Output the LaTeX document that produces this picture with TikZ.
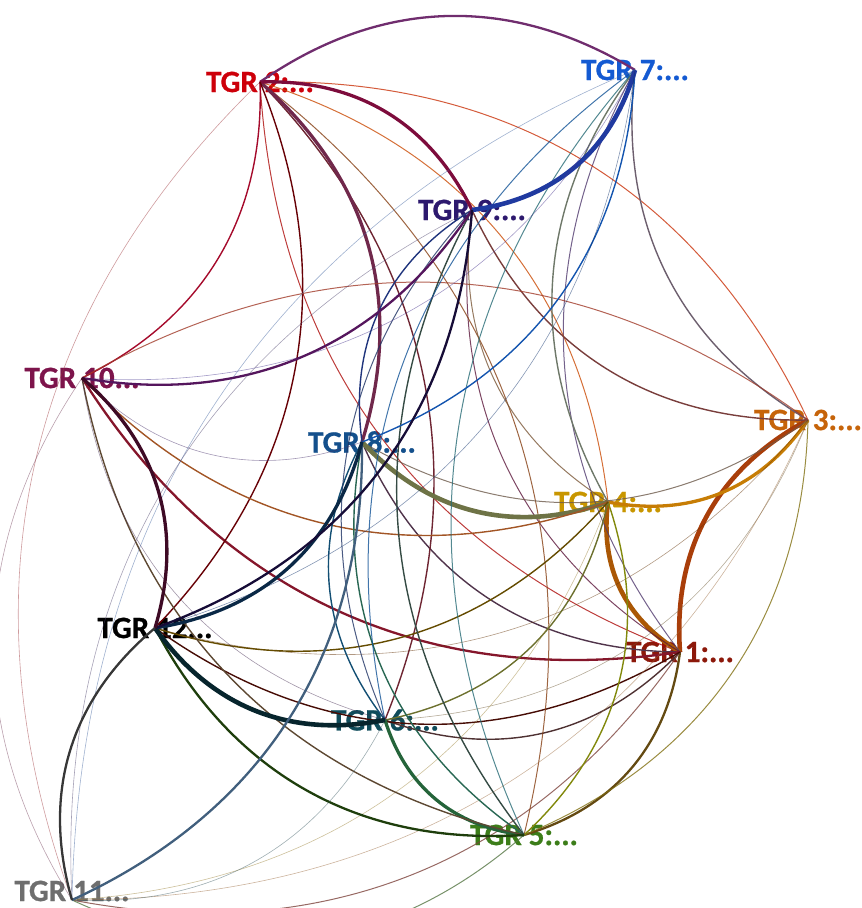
\documentclass[tikz,border=0pt]{standalone}
\usepackage{fontspec}
\setmainfont{Carlito}[BoldFeatures={FakeBold=0.8}]
% node colours
\definecolor{c1}{RGB}{140,24,10}
\definecolor{c2}{RGB}{205,0,10}
\definecolor{c3}{RGB}{198,100,10}
\definecolor{c4}{RGB}{200,150,0}
\definecolor{c5}{RGB}{60,125,25}
\definecolor{c6}{RGB}{15,75,90}
\definecolor{c7}{RGB}{20,90,210}
\definecolor{c8}{RGB}{20,80,140}
\definecolor{c9}{RGB}{45,25,110}
\definecolor{c10}{RGB}{125,20,75}
\definecolor{c11}{RGB}{110,110,110}
\definecolor{c12}{RGB}{0,0,0}
\tikzset{
  lbl/.style={font=\bfseries\fontsize{31}{32}\selectfont, inner sep=0pt},
  wa/.style={line width=0.6pt, opacity=0.5},
  wb/.style={line width=1pt, opacity=0.8},
  wc/.style={line width=1.4pt},
  wd/.style={line width=2.3pt},
  we/.style={line width=3.3pt},
  wf/.style={line width=4.6pt},
  arc/.style={bend left=33},
  rarc/.style={bend right=33},
}
\begin{document}
\begin{tikzpicture}[x=1pt,y=1pt]
\useasboundingbox (0,0) rectangle (862,908);
\coordinate (n1) at (680,256);
\coordinate (n2) at (260,826);
\coordinate (n3) at (808,488);
\coordinate (n4) at (608,406);
\coordinate (n5) at (524,73);
\coordinate (n6) at (385,188);
\coordinate (n7) at (635,838);
\coordinate (n8) at (362,466);
\coordinate (n9) at (472,698);
\coordinate (n10) at (82,530);
\coordinate (n11) at (72,8);
\coordinate (n12) at (155,280);
% labels
\node[lbl,text=c1] (l1) at (n1) {TGR 1:...};
\node[lbl,text=c2] (l2) at (n2) {TGR 2:...};
\node[lbl,text=c3] (l3) at (n3) {TGR 3:...};
\node[lbl,text=c4] (l4) at (n4) {TGR 4:...};
\node[lbl,text=c5] (l5) at (n5) {TGR 5:...};
\node[lbl,text=c6] (l6) at (n6) {TGR 6:...};
\node[lbl,text=c7] (l7) at (n7) {TGR 7:...};
\node[lbl,text=c8] (l8) at (n8) {TGR 8:...};
\node[lbl,text=c9] (l9) at (n9) {TGR 9:...};
\node[lbl,text=c10] (l10) at (n10) {TGR 10...};
\node[lbl,text=c11] (l11) at ([yshift=9pt]n11) {TGR 11...};
\node[lbl,text=c12] (l12) at (n12) {TGR 12...};
% edges, lower number first
\draw[wb,c1!50!c2] (n1) to[arc] (n2);
\draw[wf,c1!50!c3] (n1) to[arc] (n3);
\draw[wf,c1!50!c4] (n1) to[arc] (n4);
\draw[wd,c1!50!c5] (n1) to[arc] (n5);
\draw[wc,c1!50!c6] (n1) to[arc] (n6);
\draw[wb,c1!50!c7] (n1) to[arc] (n7);
\draw[wc,c1!50!c8] (n1) to[arc] (n8);
\draw[wb,c1!50!c9] (n1) to[arc] (n9);
\draw[wd,c1!50!c10] (n1) to[arc] (n10);
\draw[wb,c1!50!c11] (n1) to[arc] (n11);
\draw[wc,c1!50!c12] (n1) to[arc] (n12);
\draw[wb,c2!50!c3] (n2) to[arc] (n3);
\draw[wb,c2!50!c4] (n2) to[arc] (n4);
\draw[wb,c2!50!c5] (n2) to[arc] (n5);
\draw[wc,c2!50!c6] (n2) to[arc] (n6);
\draw[wd,c2!50!c7] (n2) to[arc] (n7);
\draw[we,c2!50!c8] (n2) to[arc] (n8);
\draw[we,c2!50!c9] (n2) to[arc] (n9);
\draw[wc,c2!50!c10] (n2) to[arc] (n10);
\draw[wa,c2!50!c11] (n2) to[rarc] (n11);
\draw[wc,c2!50!c12] (n2) to[arc] (n12);
\draw[we,c3!50!c4] (n3) to[arc] (n4);
\draw[wb,c3!50!c5] (n3) to[arc] (n5);
\draw[wa,c3!50!c6] (n3) to[arc] (n6);
\draw[wc,c3!50!c7] (n3) to[arc] (n7);
\draw[wb,c3!50!c8] (n3) to[arc] (n8);
\draw[wc,c3!50!c9] (n3) to[arc] (n9);
\draw[wb,c3!50!c10] (n3) to[rarc] (n10);
\draw[wa,c3!50!c11] (n3) to[arc] (n11);
\draw[wa,c3!50!c12] (n3) to[arc] (n12);
\draw[wc,c4!50!c5] (n4) to[arc] (n5);
\draw[wc,c4!50!c6] (n4) to[arc] (n6);
\draw[wc,c4!50!c7] (n4) to[arc] (n7);
\draw[wf,c4!50!c8] (n4) to[arc] (n8);
\draw[wb,c4!50!c9] (n4) to[arc] (n9);
\draw[wc,c4!50!c10] (n4) to[arc] (n10);
\draw[wa,c4!50!c11] (n4) to[arc] (n11);
\draw[wc,c4!50!c12] (n4) to[arc] (n12);
\draw[we,c5!50!c6] (n5) to[arc] (n6);
\draw[wb,c5!50!c7] (n5) to[arc] (n7);
\draw[wc,c5!50!c8] (n5) to[arc] (n8);
\draw[wc,c5!50!c9] (n5) to[arc] (n9);
\draw[wc,c5!50!c10] (n5) to[arc] (n10);
\draw[wb,c5!50!c11] (n5) to[arc] (n11);
\draw[wd,c5!50!c12] (n5) to[arc] (n12);
\draw[wb,c6!50!c7] (n6) to[arc] (n7);
\draw[wc,c6!50!c8] (n6) to[arc] (n8);
\draw[wb,c6!50!c9] (n6) to[arc] (n9);
\draw[wa,c6!50!c10] (n6) to[arc] (n10);
\draw[wa,c6!50!c11] (n6) to[arc] (n11);
\draw[wf,c6!50!c12] (n6) to[arc] (n12);
\draw[wc,c7!50!c8] (n7) to[arc] (n8);
\draw[wf,c7!50!c9] (n7) to[arc] (n9);
\draw[wa,c7!50!c10] (n7) to[arc] (n10);
\draw[wa,c7!50!c11] (n7) to[rarc] (n11);
\draw[wa,c7!50!c12] (n7) to[arc] (n12);
\draw[wc,c8!50!c9] (n8) to[arc] (n9);
\draw[wa,c8!50!c10] (n8) to[arc] (n10);
\draw[wd,c8!50!c11] (n8) to[arc] (n11);
\draw[we,c8!50!c12] (n8) to[arc] (n12);
\draw[wd,c9!50!c10] (n9) to[arc] (n10);
\draw[wa,c9!50!c11] (n9) to[rarc] (n11);
\draw[wd,c9!50!c12] (n9) to[arc] (n12);
\draw[wa,c10!50!c11] (n10) to[rarc] (n11);
\draw[we,c10!50!c12] (n10) to[arc] (n12);
\draw[wd,c11!50!c12] (n11) to[arc] (n12);
\end{tikzpicture}
\end{document}
